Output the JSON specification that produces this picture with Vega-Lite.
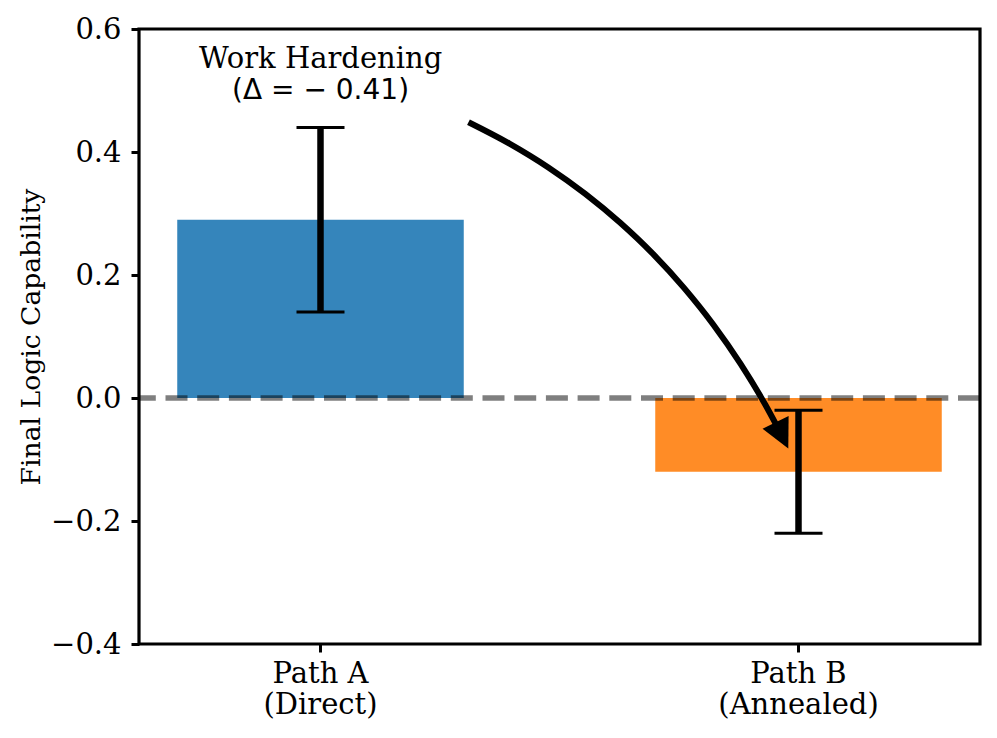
{
  "$schema": "https://vega.github.io/schema/vega-lite/v6.json",
  "width": 841,
  "height": 615,
  "autosize": {"type": "none"},
  "padding": {"left": 139, "top": 29, "right": 17, "bottom": 94},
  "background": "#ffffff",
  "config": {
    "font": "DejaVu Serif",
    "view": {"stroke": "#000000", "strokeWidth": 3.2},
    "axis": {
      "grid": false,
      "domain": false,
      "ticks": true,
      "tickColor": "#000000",
      "tickWidth": 3,
      "tickSize": 8,
      "labelColor": "#000000",
      "labelFont": "DejaVu Serif",
      "labelFontSize": 29,
      "titleFont": "DejaVu Serif",
      "titleFontWeight": "normal",
      "titleColor": "#000000"
    }
  },
  "datasets": {
    "bars": [
      {"path": "Path A\n(Direct)", "capability": 0.29, "lower": 0.14, "upper": 0.44},
      {"path": "Path B\n(Annealed)", "capability": -0.12, "lower": -0.22, "upper": -0.02}
    ],
    "arrow": [
      {"t": 0.0, "x": 0.3096, "y": 0.4485},
      {"t": 0.1, "x": 0.3952, "y": 0.4137},
      {"t": 0.2, "x": 0.4767, "y": 0.3749},
      {"t": 0.3, "x": 0.5540, "y": 0.3319},
      {"t": 0.4, "x": 0.6271, "y": 0.2849},
      {"t": 0.5, "x": 0.6961, "y": 0.2339},
      {"t": 0.6, "x": 0.7610, "y": 0.1787},
      {"t": 0.7, "x": 0.8217, "y": 0.1196},
      {"t": 0.8, "x": 0.8783, "y": 0.0563},
      {"t": 0.9, "x": 0.9308, "y": -0.0110},
      {"t": 0.95, "x": 0.9554, "y": -0.0462}
    ],
    "head": [
      {"x": 0.9655, "y": -0.0608}
    ]
  },
  "layer": [
    {
      "data": {"name": "bars"},
      "layer": [
        {
          "mark": {"type": "bar"},
          "encoding": {
            "x": {
              "field": "path",
              "type": "nominal",
              "sort": null,
              "scale": {"paddingInner": 0.4006, "paddingOuter": 0.08},
              "axis": {
                "title": null,
                "labelAngle": 0,
                "labelExpr": "split(datum.label, '\\n')",
                "labelLineHeight": 31.6,
                "labelPadding": 7,
                "labelBaseline": "top"
              }
            },
            "y": {
              "field": "capability",
              "type": "quantitative",
              "scale": {"domain": [-0.4, 0.6], "nice": false, "zero": false},
              "axis": {
                "values": [-0.4, -0.2, 0, 0.2, 0.4, 0.6],
                "format": ".1f",
                "title": "Final Logic Capability",
                "titleFontSize": 26.6,
                "titleX": -100,
                "titleY": 307.5,
                "titleAngle": -90,
                "titleAlign": "center",
                "titleBaseline": "alphabetic",
                "labelPadding": 10
              }
            },
            "color": {
              "field": "path",
              "type": "nominal",
              "sort": null,
              "scale": {"range": ["#3585bb", "#ff8c26"]},
              "legend": null
            }
          }
        },
        {
          "mark": {"type": "rule", "color": "#000000", "strokeWidth": 6.5},
          "encoding": {
            "x": {"field": "path", "type": "nominal", "sort": null},
            "y": {"field": "lower", "type": "quantitative"},
            "y2": {"field": "upper"}
          }
        },
        {
          "mark": {"type": "tick", "color": "#000000", "size": 48, "thickness": 3, "opacity": 1},
          "encoding": {
            "x": {"field": "path", "type": "nominal", "sort": null},
            "y": {"field": "lower", "type": "quantitative"}
          }
        },
        {
          "mark": {"type": "tick", "color": "#000000", "size": 48, "thickness": 3, "opacity": 1},
          "encoding": {
            "x": {"field": "path", "type": "nominal", "sort": null},
            "y": {"field": "upper", "type": "quantitative"}
          }
        }
      ]
    },
    {
      "layer": [
        {
          "data": {"name": "arrow"},
          "mark": {"type": "line", "color": "#000000", "strokeWidth": 6, "interpolate": "monotone"},
          "encoding": {
            "x": {
              "field": "x",
              "type": "quantitative",
              "scale": {"domain": [-0.38, 1.38], "nice": false, "zero": false},
              "axis": null
            },
            "y": {"field": "y", "type": "quantitative"},
            "order": {"field": "t"}
          }
        },
        {
          "data": {"name": "head"},
          "mark": {
            "type": "point",
            "shape": "M0,1L-1,-1L1,-1Z",
            "filled": true,
            "color": "#000000",
            "opacity": 1,
            "size": 841,
            "angle": -26,
            "strokeWidth": 0
          },
          "encoding": {
            "x": {"field": "x", "type": "quantitative"},
            "y": {"field": "y", "type": "quantitative"}
          }
        },
        {
          "data": {"name": "head"},
          "mark": {"type": "rule", "color": "#000000", "opacity": 0.5, "strokeWidth": 5.5, "strokeDash": [22, 9.7]},
          "encoding": {"y": {"datum": 0}}
        },
        {
          "data": {"name": "head"},
          "mark": {"type": "text", "font": "DejaVu Serif", "fontSize": 29, "align": "center", "baseline": "alphabetic", "color": "#000000"},
          "encoding": {
            "x": {"datum": 0},
            "y": {"datum": 0.536},
            "text": {"value": "Work Hardening"}
          }
        },
        {
          "data": {"name": "head"},
          "mark": {"type": "text", "font": "DejaVu Sans", "fontSize": 28, "align": "center", "baseline": "alphabetic", "color": "#000000"},
          "encoding": {
            "x": {"datum": 0},
            "y": {"datum": 0.4855},
            "text": {"value": "(Δ = − 0.41)"}
          }
        }
      ]
    }
  ],
  "resolve": {"scale": {"x": "independent"}}
}
